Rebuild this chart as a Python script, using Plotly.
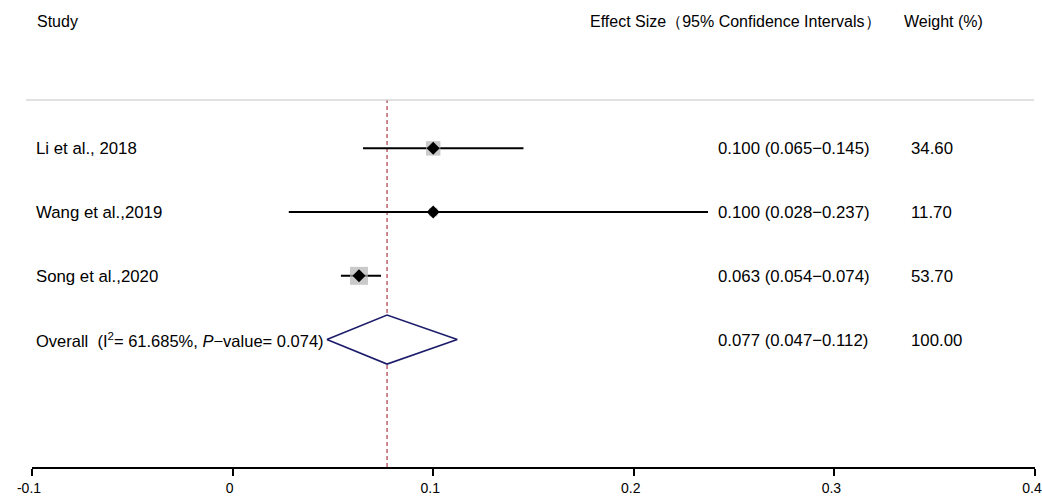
import plotly.graph_objects as go
import numpy as np

studies = ["Li et al., 2018", "Wang et al.,2019", "Song et al.,2020"]
est = [0.100, 0.100, 0.063]
lo = [0.065, 0.028, 0.054]
hi = [0.145, 0.237, 0.074]
weights = [34.60, 11.70, 53.70]
ci_text = ["0.100 (0.065\u22120.145)", "0.100 (0.028\u22120.237)", "0.063 (0.054\u22120.074)"]
weight_text = ["34.60", "11.70", "53.70"]

overall_est = 0.077
overall_lo = 0.047
overall_hi = 0.112
overall_ci_text = "0.077 (0.047\u22120.112)"
overall_weight_text = "100.00"
overall_label = "Overall  (I<sup>2</sup>= 61.685%, <i>P</i>\u2212value= 0.074)"

tick_vals = [-0.1, 0, 0.1, 0.2, 0.3, 0.4]
tick_text = ["-0.1", "0", "0.1", "0.2", "0.3", "0.4"]

W, H = 1042, 496
ML, MR, MT, MB = 32, 7, 100, 29
FONT = "Liberation Sans, Arial, sans-serif"

rows = [4, 3, 2]
overall_row = 1
yr = [-1.0, 4.759]

def px_to_paper_x(px):
    return (px - ML) / (W - ML - MR)

def py_to_paper_y(py):
    return (H - MB - py) / (H - MT - MB)

fig = go.Figure()

for y, l, h in zip(rows, lo, hi):
    fig.add_trace(go.Scatter(x=[l, h], y=[y, y], mode="lines",
                             line=dict(color="black", width=2),
                             hoverinfo="skip", showlegend=False))

sizes = [2.45 * np.sqrt(w) for w in weights]
fig.add_trace(go.Scatter(x=est, y=rows, mode="markers",
                         marker=dict(symbol="square", size=sizes, color="#b4b4b4",
                                     line=dict(width=0)),
                         showlegend=False))
fig.add_trace(go.Scatter(x=est, y=rows, mode="markers",
                         marker=dict(symbol="diamond", size=10, color="black",
                                     line=dict(width=0)),
                         showlegend=False))

dh = 0.385
fig.add_trace(go.Scatter(
    x=[overall_lo, overall_est, overall_hi, overall_est, overall_lo],
    y=[overall_row, overall_row + dh, overall_row, overall_row - dh, overall_row],
    mode="lines", fill="toself", fillcolor="white",
    line=dict(color="#1c1c6b", width=1.6), showlegend=False, hoverinfo="skip"))

shapes = [
    dict(type="line", xref="x", yref="paper", x0=overall_est, x1=overall_est, y0=0, y1=1,
         line=dict(color="#b04a55", width=1.3, dash="4px,3px"), layer="below"),
    dict(type="line", xref="paper", yref="paper", x0=px_to_paper_x(26), x1=px_to_paper_x(1034),
         y0=1, y1=1, line=dict(color="#c4c4c4", width=1)),
]

ann = []
def add_text(px, py, text, size=16, anchor="left"):
    ann.append(dict(xref="paper", yref="paper", x=px_to_paper_x(px), y=py_to_paper_y(py),
                    text=text, showarrow=False, xanchor=anchor, yanchor="middle",
                    font=dict(family=FONT, size=size, color="black")))

add_text(35, 22, "Study")
add_text(588, 22, "Effect Size\uff0895% Confidence Intervals\uff09")
add_text(902, 22, "Weight (%)")

row_px = [148, 212, 276]
for py, s, c, w in zip(row_px, studies, ci_text, weight_text):
    add_text(34, py, s, size=16.8)
    add_text(716, py, c, size=16.8)
    add_text(909, py, w, size=16.8)
add_text(34, 340, overall_label, size=16.5)
add_text(716, 340, overall_ci_text, size=16.8)
add_text(909, 340, overall_weight_text, size=16.8)

fig.update_layout(
    width=W, height=H,
    margin=dict(l=ML, r=MR, t=MT, b=MB, autoexpand=False),
    plot_bgcolor="white", paper_bgcolor="white",
    shapes=shapes, annotations=ann,
    xaxis=dict(range=[-0.1, 0.4], tickvals=tick_vals, ticktext=tick_text,
               showgrid=False, zeroline=False, showline=True, linecolor="black",
               linewidth=1.5, ticks="outside", ticklen=7, tickwidth=1.5, tickcolor="black",
               automargin=False, ticklabelstandoff=0, ticklabelshift=-3,
               ticklabeloverflow="allow",
               tickfont=dict(family=FONT, size=14, color="black")),
    yaxis=dict(range=yr, visible=False, showgrid=False, zeroline=False, automargin=False),
)

fig.write_html("out.html")
